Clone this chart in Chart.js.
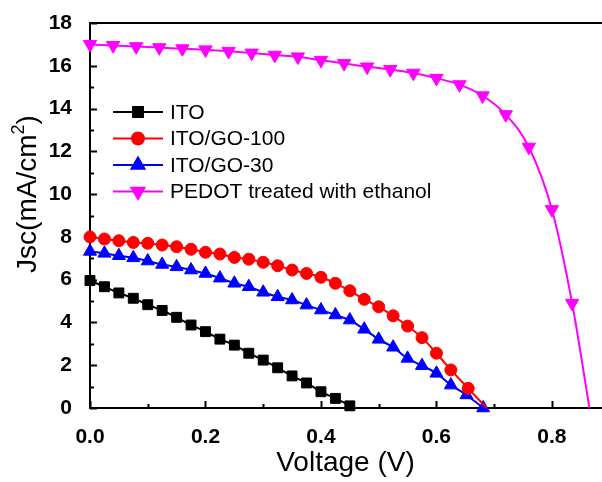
<!DOCTYPE html>
<html>
<head>
<meta charset="utf-8">
<script src="https://cdn.jsdelivr.net/npm/chart.js@4.4.0/dist/chart.umd.min.js"></script>
<style>
  body { margin: 0; background: #fff; }
  #wrap { width: 602px; height: 482px; }
</style>
</head>
<body>
<div id="wrap"><canvas id="jvChart" width="602" height="482"></canvas></div>
<script>
// J-V curves (voltage in V, current density in mA/cm2)
const itoV = [0, 0.025, 0.05, 0.075, 0.1, 0.125, 0.15, 0.175, 0.2, 0.225, 0.25, 0.275, 0.3, 0.325, 0.35, 0.375, 0.4, 0.425, 0.45, 0.455];
const itoJ = [5.96, 5.67, 5.38, 5.13, 4.83, 4.56, 4.24, 3.88, 3.57, 3.22, 2.94, 2.56, 2.24, 1.88, 1.50, 1.17, 0.76, 0.45, 0.10, 0];

const go100V = [0, 0.025, 0.05, 0.075, 0.1, 0.125, 0.15, 0.175, 0.2, 0.225, 0.25, 0.275, 0.3, 0.325, 0.35, 0.375, 0.4, 0.425, 0.45, 0.475, 0.5, 0.525, 0.55, 0.575, 0.6, 0.625, 0.655, 0.687];
const go100J = [8.0, 7.9, 7.82, 7.74, 7.70, 7.62, 7.54, 7.42, 7.28, 7.2, 7.04, 6.96, 6.81, 6.65, 6.45, 6.29, 6.11, 5.83, 5.48, 5.08, 4.73, 4.31, 3.83, 3.29, 2.56, 1.78, 0.92, 0];

const go30V = [0, 0.025, 0.05, 0.075, 0.1, 0.125, 0.15, 0.175, 0.2, 0.225, 0.25, 0.275, 0.3, 0.325, 0.35, 0.375, 0.4, 0.425, 0.45, 0.475, 0.5, 0.525, 0.55, 0.575, 0.6, 0.625, 0.652, 0.681];
const go30J = [7.32, 7.23, 7.12, 7.02, 6.87, 6.71, 6.60, 6.45, 6.29, 6.07, 5.83, 5.67, 5.41, 5.20, 5.05, 4.81, 4.58, 4.35, 4.11, 3.68, 3.21, 2.84, 2.32, 1.98, 1.62, 1.07, 0.61, 0.0];

const pedotV = [0, 0.04, 0.08, 0.12, 0.16, 0.2, 0.24, 0.28, 0.32, 0.36, 0.4, 0.44, 0.48, 0.52, 0.56, 0.6, 0.64, 0.68, 0.72, 0.76, 0.8, 0.835, 0.865];
const pedotJ = [17.0, 16.95, 16.9, 16.85, 16.8, 16.75, 16.68, 16.6, 16.5, 16.42, 16.26, 16.11, 15.95, 15.83, 15.66, 15.42, 15.12, 14.6, 13.72, 12.2, 9.28, 4.9, 0];

const seriesNames = ['ITO', 'ITO/GO-100', 'ITO/GO-30', 'PEDOT treated with ethanol'];
const xTicks = [0, 0.2, 0.4, 0.6, 0.8];
const yTicks = [0, 2, 4, 6, 8, 10, 12, 14, 16, 18];

const FONT = '"Liberation Sans", Arial, sans-serif';

function toPoints(vs, js) {
  return vs.map((v, i) => ({ x: v, y: js[i] }));
}

// markers on every point except a bare end point at Voc
function markerRadius(r, bareLast) {
  return ctx => (bareLast && ctx.dataIndex === ctx.dataset.data.length - 1) ? 0 : r;
}

function makeSet(label, vs, js, color, style, rot, r, bareLast) {
  return {
    label: label,
    data: toPoints(vs, js),
    borderColor: color,
    backgroundColor: color,
    borderWidth: 2,
    pointStyle: style,
    rotation: rot,
    pointRadius: markerRadius(r, bareLast),
    pointBorderWidth: 1,
    pointHoverRadius: markerRadius(r, bareLast),
    cubicInterpolationMode: 'monotone',
    clip: false
  };
}

// inward ticks + top frame line
const frameTicks = {
  id: 'frameTicks',
  beforeDatasetsDraw(chart) {
    const ctx = chart.ctx;
    const a = chart.chartArea;
    const xs = chart.scales.x, ys = chart.scales.y;
    ctx.save();
    ctx.strokeStyle = '#000';
    ctx.lineWidth = 2;
    ctx.beginPath();
    ctx.moveTo(a.left - 1, a.top);
    ctx.lineTo(a.right + 1, a.top);
    ctx.stroke();
    for (let i = 0; i <= 18; i++) {
      const y = Math.round(ys.getPixelForValue(i)) + 0.5;
      const len = i % 2 === 0 ? 7 : 4;
      ctx.beginPath();
      ctx.moveTo(a.left, y);
      ctx.lineTo(a.left + len, y);
      ctx.stroke();
    }
    for (let i = 0; i <= 8; i++) {
      const x = Math.round(xs.getPixelForValue(i / 10)) + 0.5;
      const len = i % 2 === 0 ? 7 : 4;
      ctx.beginPath();
      ctx.moveTo(x, a.bottom);
      ctx.lineTo(x, a.bottom - len);
      ctx.stroke();
    }
    ctx.restore();
  }
};

// y title with superscript and the line+marker legend
const extras = {
  id: 'extras',
  afterDraw(chart) {
    const ctx = chart.ctx;
    ctx.save();

    // y axis title
    ctx.fillStyle = '#000';
    ctx.textBaseline = 'middle';
    const big = '28px ' + FONT, small = '18px ' + FONT;
    ctx.font = big;
    const w1 = ctx.measureText('Jsc(mA/cm').width;
    const w3 = ctx.measureText(')').width;
    ctx.font = small;
    const w2 = ctx.measureText('2').width;
    const total = w1 + w2 + w3;
    ctx.translate(28, 194);
    ctx.rotate(-Math.PI / 2);
    let x = -total / 2;
    ctx.font = big;
    ctx.textAlign = 'left';
    ctx.fillText('Jsc(mA/cm', x, 0);
    x += w1;
    ctx.font = small;
    ctx.fillText('2', x, -9);
    x += w2;
    ctx.font = big;
    ctx.fillText(')', x, 0);
    ctx.setTransform(1, 0, 0, 1, 0, 0);

    // legend
    const rowY = [112, 138.5, 165, 191.5];
    chart.data.datasets.forEach((ds, i) => {
      const y = rowY[i];
      ctx.strokeStyle = ds.borderColor;
      ctx.fillStyle = ds.backgroundColor;
      ctx.lineWidth = 2;
      ctx.beginPath();
      ctx.moveTo(113, y);
      ctx.lineTo(163, y);
      ctx.stroke();
      Chart.helpers.drawPoint(ctx, {
        pointStyle: ds.pointStyle,
        rotation: ds.rotation,
        radius: ds.pointStyle === 'circle' ? 6 : (ds.pointStyle === 'rect' ? 7 : 7.5),
        borderWidth: 1
      }, 138, y);
      ctx.fillStyle = '#000';
      ctx.font = '21px ' + FONT;
      ctx.textAlign = 'left';
      ctx.textBaseline = 'middle';
      ctx.fillText(ds.label, 170, y + 1);
    });
    ctx.restore();
  }
};

new Chart(document.getElementById('jvChart'), {
  type: 'line',
  data: {
    datasets: [
      makeSet(seriesNames[0], itoV, itoJ, '#000000', 'rect', 0, 7, true),
      makeSet(seriesNames[1], go100V, go100J, '#ff0000', 'circle', 0, 6, true),
      makeSet(seriesNames[2], go30V, go30J, '#0000ff', 'triangle', 0, 7.5, false),
      makeSet(seriesNames[3], pedotV, pedotJ, '#ff00ff', 'triangle', 180, 7.7, true)
    ]
  },
  options: {
    responsive: false,
    animation: false,
    layout: { autoPadding: false, padding: { top: 23, right: 1, left: 0, bottom: 0 } },
    plugins: {
      legend: { display: false },
      tooltip: { enabled: false }
    },
    scales: {
      x: {
        type: 'linear',
        min: 0,
        max: 0.885,
        grid: { display: false },
        border: { display: true, color: '#000', width: 2 },
        afterFit: s => { s.height = 74; s.paddingLeft = 0; s.paddingRight = 0; },
        afterBuildTicks: s => { s.ticks = xTicks.map(v => ({ value: v })); },
        ticks: {
          padding: 9,
          color: '#000',
          font: { family: FONT, size: 21, weight: 'bold' },
          callback: v => v.toFixed(1)
        },
        title: {
          display: true,
          text: 'Voltage (V)',
          color: '#000',
          font: { family: FONT, size: 28 },
          padding: { top: 0, bottom: 2 }
        }
      },
      y: {
        min: 0,
        max: 18,
        grid: { display: false },
        border: { display: true, color: '#000', width: 2 },
        afterFit: s => { s.width = 90; s.paddingTop = 0; s.paddingBottom = 0; },
        afterBuildTicks: s => { s.ticks = yTicks.map(v => ({ value: v })); },
        ticks: {
          padding: 10,
          color: '#000',
          font: { family: FONT, size: 21, weight: 'bold' }
        }
      }
    }
  },
  plugins: [frameTicks, extras]
});
</script>
</body>
</html>
